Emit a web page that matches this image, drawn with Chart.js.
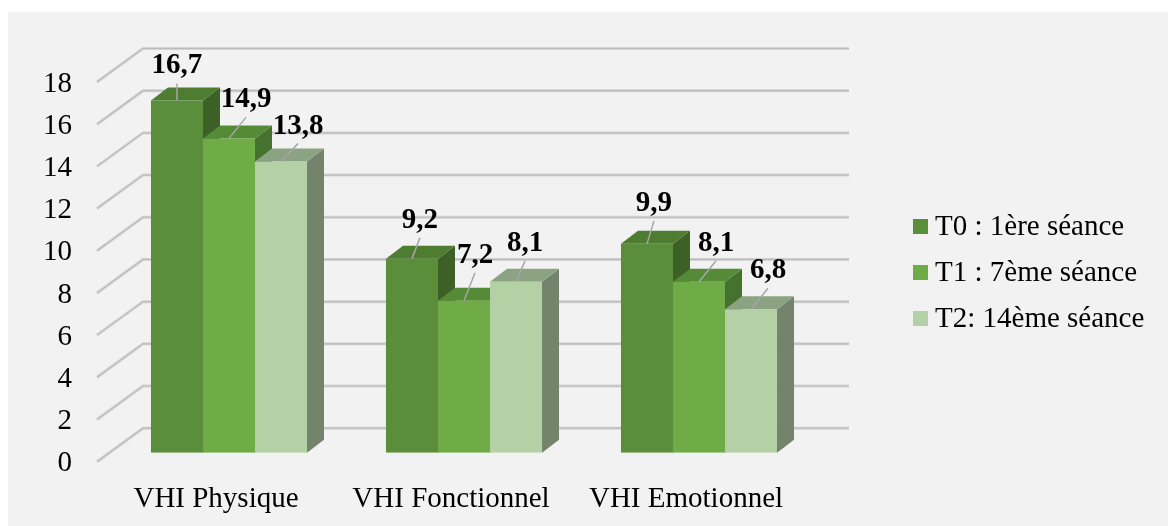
<!DOCTYPE html>
<html>
<head>
<meta charset="utf-8">
<script src="https://cdn.jsdelivr.net/npm/chart.js@4"></script>
<style>
  html, body { margin: 0; padding: 0; background: #ffffff; }
  #wrap { position: absolute; left: 8px; top: 12px; width: 1160px; height: 514px; background: #f2f2f2; }
</style>
</head>
<body>
<div id="wrap"><canvas id="vhiChart" width="1160" height="514"></canvas></div>
<script>
// Data
const categories = ["VHI Physique", "VHI Fonctionnel", "VHI Emotionnel"];
const seriesNames = ["T0 : 1ère séance", "T1 : 7ème séance", "T2: 14ème séance"];
const t0Values = [16.7, 9.2, 9.9];
const t1Values = [14.9, 7.2, 8.1];
const t2Values = [13.8, 8.1, 6.8];
const yTicks = [0, 2, 4, 6, 8, 10, 12, 14, 16, 18];

// Colours: front, top, side
const faceColors = [
    { front: '#5b8e3a', top: '#4e7d31', side: '#3c6025' },
    { front: '#6fac47', top: '#558a37', side: '#467230' },
    { front: '#b4d0a5', top: '#8ba383', side: '#74836b' }
];

// 3D depth of a bar
const DX = 17, DY = -13;
const FONT = "'Liberation Serif', 'Times New Roman', serif";

// label nudges (x offset from bar centre, raise of baseline above bar top)
const labelDx = [[0, 8, 7], [17, 11, 17], [17, 9, 17]];
const labelRaise = [[27, 31, 33], [31, 38, 31], [28, 31, 31]];

const threeD = {
    id: 'threeD',
    beforeDatasetsDraw(chart) {
        const ctx = chart.ctx;
        const area = chart.chartArea;
        const yScale = chart.scales.y;

        // back wall gridlines + diagonals
        ctx.save();
        yTicks.forEach(v => {
            const y = yScale.getPixelForValue(v);
            const pts = [
                [area.left - 14.5, y + 9],
                [area.left + 31.5, y - 24.5],
                [area.right + 32.5, y - 24.5]
            ];
            [['#d4d4d4', 3], ['#bcbcbc', 1.2]].forEach(([col, w]) => {
                ctx.strokeStyle = col;
                ctx.lineWidth = w;
                ctx.beginPath();
                ctx.moveTo(pts[0][0], pts[0][1]);
                ctx.lineTo(pts[1][0], pts[1][1]);
                ctx.lineTo(pts[2][0], pts[2][1]);
                ctx.stroke();
            });
        });

        // side and top faces, left to right
        categories.forEach((c, j) => {
            chart.data.datasets.forEach((ds, i) => {
                const bar = chart.getDatasetMeta(i).data[j];
                const left = bar.x - bar.width / 2;
                const right = bar.x + bar.width / 2;
                const top = bar.y, base = bar.base;
                ctx.fillStyle = faceColors[i].side;
                ctx.beginPath();
                ctx.moveTo(right, top);
                ctx.lineTo(right + DX, top + DY);
                ctx.lineTo(right + DX, base + DY);
                ctx.lineTo(right, base);
                ctx.closePath();
                ctx.fill();
                ctx.fillStyle = faceColors[i].top;
                ctx.beginPath();
                ctx.moveTo(left, top);
                ctx.lineTo(left + DX, top + DY);
                ctx.lineTo(right + DX, top + DY);
                ctx.lineTo(right, top);
                ctx.closePath();
                ctx.fill();
            });
        });
        ctx.restore();
    },
    afterDatasetsDraw(chart) {
        const ctx = chart.ctx;
        ctx.save();
        // data labels with leader lines
        chart.data.datasets.forEach((ds, i) => {
            chart.getDatasetMeta(i).data.forEach((bar, j) => {
                const cx = bar.x + labelDx[i][j];
                const base = bar.y - labelRaise[i][j];
                ctx.strokeStyle = '#a6a6a6';
                ctx.lineWidth = 1.5;
                ctx.beginPath();
                ctx.moveTo(cx, base + 10);
                ctx.lineTo(bar.x, bar.y);
                ctx.stroke();
                ctx.fillStyle = '#000000';
                ctx.font = 'bold 29px ' + FONT;
                ctx.textAlign = 'center';
                ctx.textBaseline = 'alphabetic';
                ctx.fillText(String(ds.data[j]).replace('.', ','), cx, base);
            });
        });

        // legend
        ctx.font = '29px ' + FONT;
        ctx.textAlign = 'left';
        ctx.textBaseline = 'alphabetic';
        chart.data.datasets.forEach((ds, i) => {
            const cy = 214 + i * 46;
            ctx.fillStyle = faceColors[i].front;
            ctx.fillRect(905, cy - 7, 15, 15);
            ctx.fillStyle = '#000000';
            ctx.fillText(ds.label, 927, cy + 9);
        });
        ctx.restore();
    }
};

const ctx = document.getElementById('vhiChart').getContext('2d');
new Chart(ctx, {
    type: 'bar',
    data: {
        labels: categories,
        datasets: [
            { label: seriesNames[0], data: t0Values, backgroundColor: faceColors[0].front },
            { label: seriesNames[1], data: t1Values, backgroundColor: faceColors[1].front },
            { label: seriesNames[2], data: t2Values, backgroundColor: faceColors[2].front }
        ]
    },
    options: {
        responsive: false,
        animation: false,
        layout: { padding: { top: 61, right: 351.5, bottom: 0, left: 0 } },
        datasets: { bar: { barPercentage: 1, categoryPercentage: 0.664 } },
        plugins: {
            legend: { display: false },
            tooltip: { enabled: false }
        },
        scales: {
            x: {
                grid: { display: false, drawTicks: false },
                border: { display: false },
                ticks: {
                    color: '#000000',
                    font: { family: FONT, size: 29 },
                    padding: 29,
                    labelOffset: -13,
                    maxRotation: 0
                },
                afterFit(scale) { scale.height = 73.3; }
            },
            y: {
                min: 0,
                max: 18,
                grid: { display: false, drawTicks: false },
                border: { display: false },
                ticks: {
                    stepSize: 2,
                    color: '#000000',
                    font: { family: FONT, size: 29 },
                    padding: 39.5,
                    labelOffset: 11
                },
                afterFit(scale) { scale.width = 103.5; }
            }
        }
    },
    plugins: [threeD]
});
</script>
</body>
</html>
